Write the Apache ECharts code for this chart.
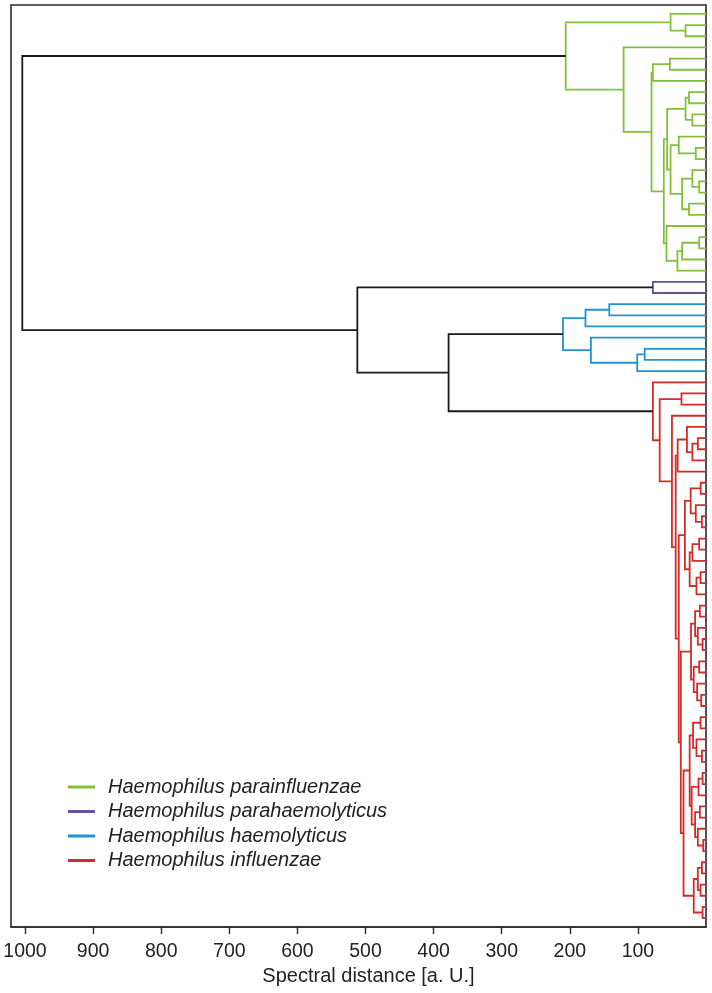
<!DOCTYPE html>
<html><head><meta charset="utf-8">
<script src="https://cdn.jsdelivr.net/npm/echarts@6/dist/echarts.min.js"></script>
<style>html,body{margin:0;padding:0;background:#fff}#c{width:712px;height:993px}</style>
</head><body><div id="c"></div>
<script>
// ---- data ----
const X_TICKS = [100, 200, 300, 400, 500, 600, 700, 800, 900, 1000];
const X_TITLE = 'Spectral distance [a. U.]';
const SPECIES = ['Haemophilus parainfluenzae', 'Haemophilus parahaemolyticus', 'Haemophilus haemolyticus', 'Haemophilus influenzae'];
// top-level (black) merge heights
const ROOT_HEIGHT = 1004;      // parainfluenzae vs rest
const MID_HEIGHT = 512;        // parahaemolyticus vs (haemolyticus + influenzae)
const LOW_HEIGHT = 378;        // haemolyticus vs influenzae
// cluster trees: node = [mergeHeight, childA, childB], leaf = 0
const greenTree = [206,
  [52, 0, [30, 0, 0]],
  [121, 0,
    [80,
      [78, [53, 0, 0], 0],
      [62,
        [57,
          [30, [25, 0, 0], [20, 0, 0]],
          [52, [40, 0, [15, 0, 0]], [35, [20, 0, [10, 0, 0]], [25, 0, 0]]]
        ],
        [58, 0, [42, [35, [10, 0, 0], 0], 0]]
      ]
    ]
  ]
];
const purpleTree = [78, 0, 0];
const blueTree = [210, [177, [142, 0, 0], 0], [169, 0, [101, [90, 0, 0], 0]]];
const redTree = [78, 0,
  [68,
    [36, 0, 0],
    [50, 0,
      [44.5,
        [41.6, [28, 0, [20, [12, 0, 0], 0]], 0],
        [40,
          [31,
            [22.5, [7.8, 0, 0], [15, 0, [6, 0, 0]]],
            [24, [20, [10, 0, 0], 0], [14, [8, 0, 0], 0]]
          ],
          [37,
            [22, [16, [9, 0, 0], [12, 0, [5, 0, 0]]], [18, [10, 0, 0], [13, 0, [7, 0, 0]]]],
            [33,
              [24, [19, [8, 0, 0], [14, 0, [6, 0, 0]]], [21, [11, [5, 0, 0], 0], [16, [9, 0, 0], [12, 0, [4, 0, 0]]]]],
              [18, [12, [6, 0, 0], [8, 0, 0]], [5, 0, 0]]
            ]
          ]
        ]
      ]
    ]
  ]
];

// ---- styles ----
const COLORS = ['#82c03a', '#6d4f97', '#1f93d4', '#d52b27'];
const BLACK = '#1a1a1a';
const FONT = 'Liberation Sans, Arial, sans-serif';

// ---- build dendrogram segments (in data units) ----
let leafCount = 0;
const segs = [[], [], [], [], []]; // 4 clusters + black
function walk(node, k) {
  if (node === 0) { leafCount++; return { y: leafCount, h: 0 }; }
  const A = walk(node[1], k), B = walk(node[2], k);
  segs[k].push([A.h, A.y, node[0], B.y, B.h]);
  return { y: (A.y + B.y) / 2, h: node[0] };
}
function join(A, B, h) {
  segs[4].push([A.h, A.y, h, B.y, B.h]);
  return { y: (A.y + B.y) / 2, h: h };
}
const gN = walk(greenTree, 0);
const pN = walk(purpleTree, 1);
const bN = walk(blueTree, 2);
const rN = walk(redTree, 3);
join(gN, join(pN, join(bN, rN, LOW_HEIGHT), MID_HEIGHT), ROOT_HEIGHT);

function makeSeries(name, data, color) {
  return {
    type: 'custom', name: name, data: data, clip: false,
    itemStyle: { color: color },
    encode: { x: [0, 2, 4], y: [1, 3] },
    renderItem: function (params, api) {
      const pts = [
        api.coord([api.value(0), api.value(1)]),
        api.coord([api.value(2), api.value(1)]),
        api.coord([api.value(2), api.value(3)]),
        api.coord([api.value(4), api.value(3)])
      ];
      return { type: 'polyline', shape: { points: pts }, style: { stroke: color, lineWidth: 1.8, fill: 'none' }, silent: true };
    }
  };
}

const series = SPECIES.map((s, i) => makeSeries(s, segs[i], COLORS[i]));
series.push(makeSeries('links', segs[4], BLACK));

const chart = echarts.init(document.getElementById('c'), null, { renderer: 'canvas' });
chart.setOption({
  animation: false,
  backgroundColor: '#fff',
  grid: { left: 11, right: 6, top: 5, bottom: 66, containLabel: false, outerBoundsMode: 'none',
          show: true, borderColor: '#2a2a2a', borderWidth: 1.6, backgroundColor: 'transparent' },
  xAxis: {
    type: 'value', inverse: true, min: 0, max: 1020.6, interval: 100,
    splitLine: { show: false },
    axisLine: { show: true, lineStyle: { color: '#2a2a2a', width: 1.6 } },
    axisTick: { show: true, customValues: X_TICKS, length: 7, lineStyle: { color: '#2a2a2a', width: 1.4 } },
    axisLabel: { customValues: X_TICKS, formatter: v => String(v), fontSize: 19.5, color: '#222', fontFamily: FONT, margin: 15 },
    name: X_TITLE, nameLocation: 'middle', nameGap: 39,
    nameTextStyle: { fontSize: 20, color: '#222', fontFamily: FONT, padding: [0, 0, 0, 20] }
  },
  yAxis: {
    type: 'value', inverse: true, min: 0.2, max: leafCount + 0.8,
    show: false
  },
  legend: {
    data: SPECIES, orient: 'vertical', left: 68, top: 777, itemGap: 4.5, padding: 0,
    icon: 'rect', itemWidth: 27, itemHeight: 3,
    textStyle: { fontSize: 20, fontStyle: 'italic', color: '#222', fontFamily: FONT, padding: [0, 0, 0, 8] },
    selectedMode: false
  },
  series: series
});
</script></body></html>
